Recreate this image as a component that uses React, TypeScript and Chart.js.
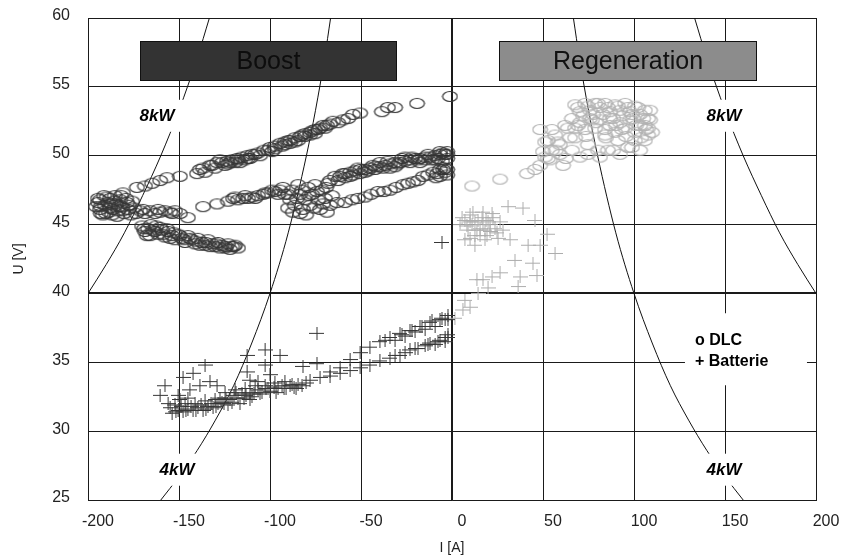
import React, { useEffect, useRef } from 'react';
import { Chart, registerables } from 'chart.js';

Chart.register(...registerables);

const FONT = '"Liberation Sans", Arial, Helvetica, sans-serif';

// Axis ticks
const xTicks = [-200, -150, -100, -50, 0, 50, 100, 150, 200];
const yTicks = [25, 30, 35, 40, 45, 50, 55, 60];

// DLC (circles), boost side: [I (A), U (V)]
const dlcBoost: [number, number][] = [
  // upper branch
  [-173.1, 47.7], [-168.7, 47.8], [-164.8, 48.0], [-160.4, 48.2], [-156.6, 48.4], [-180.8, 47.3],
  [-149.5, 48.5], [-140.1, 48.7], [-138.5, 49.0], [-136.8, 49.1], [-131.9, 49.3], [-130.2, 49.1],
  [-129.1, 49.5], [-126.4, 49.5], [-124.7, 49.3], [-123.6, 49.6], [-122.0, 49.5], [-120.9, 49.7],
  [-119.2, 49.5], [-118.1, 49.8], [-116.5, 49.5], [-115.4, 49.9], [-113.7, 49.7], [-112.6, 50.0],
  [-111.0, 49.8], [-109.9, 50.1], [-106.6, 50.2], [-103.3, 50.4], [-100.0, 50.6], [-97.3, 50.7],
  [-97.3, 50.5], [-94.5, 50.9], [-91.8, 51.0], [-91.8, 50.8], [-89.0, 51.1], [-89.0, 50.9],
  [-86.3, 51.3], [-86.3, 51.0], [-83.5, 51.4], [-80.8, 51.6], [-80.8, 51.4], [-78.0, 51.7],
  [-78.0, 51.5], [-75.3, 51.9], [-75.3, 51.6], [-72.5, 52.0], [-70.9, 52.2], [-69.8, 52.0],
  [-68.7, 52.2], [-65.4, 52.5], [-57.1, 52.7], [-54.4, 53.0], [-50.5, 53.1], [-38.5, 53.2],
  [-35.2, 53.5], [-31.3, 53.5], [-19.2, 53.8], [-1.1, 54.3],
  [-135.7, 48.8], [-133.0, 49.3], [-127.5, 49.7], [-123.1, 49.4], [-117.6, 49.7], [-112.1, 49.8],
  [-108.2, 50.1], [-105.5, 50.0], [-101.1, 50.4], [-98.9, 50.3], [-93.4, 50.7], [-90.1, 51.1],
  [-84.6, 51.1], [-82.4, 51.5], [-76.9, 51.8], [-73.6, 51.9], [-67.0, 52.3], [-62.6, 52.4],
  [-59.9, 52.6],
  // left cluster
  [-195.6, 46.3], [-194.5, 46.6], [-193.4, 46.8], [-193.4, 46.1], [-191.8, 45.7], [-191.2, 47.1],
  [-190.7, 46.4], [-190.1, 45.8], [-189.0, 46.6], [-187.9, 46.9], [-187.9, 46.2], [-186.8, 45.7],
  [-186.3, 46.1], [-185.2, 47.1], [-184.6, 46.5], [-183.5, 46.0], [-182.4, 46.8], [-181.3, 46.3],
  [-180.2, 45.8], [-178.6, 46.6], [-178.0, 46.1], [-176.4, 45.7], [-174.7, 46.2],
  [-194.5, 46.9], [-192.9, 46.3], [-189.6, 47.0], [-188.5, 45.9], [-185.7, 46.7], [-184.1, 45.6],
  [-181.9, 47.1], [-180.8, 46.0], [-179.1, 46.9], [-177.5, 46.4], [-175.8, 46.7], [-173.6, 45.8],
  [-192.9, 45.8], [-187.4, 46.5], [-183.0, 46.3],
  // middle branch
  [-171.4, 46.0], [-168.7, 45.8], [-165.9, 46.0], [-163.2, 45.8], [-160.4, 45.9], [-157.7, 46.0],
  [-154.9, 45.9], [-152.2, 46.0], [-149.5, 45.8], [-145.1, 45.5], [-136.8, 46.3], [-129.1, 46.5],
  [-123.1, 46.7], [-120.3, 46.9], [-117.6, 46.8], [-114.8, 46.9], [-112.1, 46.9], [-109.9, 47.0],
  [-106.6, 47.1], [-103.8, 47.2], [-101.1, 47.3], [-97.3, 47.4], [-94.5, 47.5],
  [-169.8, 46.1], [-161.5, 46.1], [-153.8, 45.8], [-119.2, 47.0], [-113.7, 47.1], [-108.2, 46.9],
  [-102.7, 47.3], [-98.9, 47.5], [-95.6, 47.2], [-92.9, 47.7],
  // dense cluster
  [-91.8, 47.2], [-90.1, 46.2], [-89.0, 46.8], [-87.9, 47.5], [-86.3, 46.4], [-84.6, 47.9],
  [-83.5, 47.2], [-83.5, 45.8], [-81.9, 46.1], [-80.8, 46.8], [-79.1, 47.7], [-78.0, 46.4],
  [-76.9, 47.2], [-75.3, 47.9], [-73.6, 46.8], [-72.5, 46.1], [-71.4, 47.5], [-69.8, 46.9],
  [-68.1, 48.0], [-67.0, 46.4], [-67.0, 48.2],
  [-90.1, 47.2], [-87.4, 45.9], [-85.2, 46.9], [-82.4, 47.5], [-80.2, 45.7], [-78.6, 47.1],
  [-75.8, 46.2], [-74.2, 47.4], [-70.9, 46.5], [-69.2, 47.7], [-65.9, 47.1], [-68.7, 45.9],
  // band A
  [-64.3, 48.5], [-61.5, 48.5], [-58.8, 48.7], [-58.8, 48.4], [-56.0, 48.8], [-56.0, 48.5],
  [-53.3, 48.9], [-50.5, 49.0], [-50.5, 48.7], [-47.8, 49.0], [-47.8, 48.8], [-45.1, 49.1],
  [-42.3, 49.2], [-42.3, 49.0], [-39.6, 49.2], [-39.6, 49.5], [-36.8, 49.3], [-34.1, 49.4],
  [-34.1, 49.1], [-31.3, 49.5], [-31.3, 49.2], [-28.6, 49.5], [-25.8, 49.6], [-25.8, 49.9],
  [-23.1, 49.7], [-23.1, 49.5], [-20.3, 49.8], [-17.6, 49.8], [-17.6, 49.5], [-14.8, 49.9],
  [-14.8, 49.7], [-12.1, 49.9], [-9.3, 50.0], [-9.3, 49.7], [-6.6, 50.1], [-6.6, 50.3],
  [-3.8, 50.1], [-2.7, 50.1], [-2.7, 49.8], [-2.7, 50.3],
  [-62.6, 48.2], [-59.9, 48.7], [-54.4, 48.6], [-51.7, 49.1], [-46.2, 48.9], [-43.4, 49.3],
  [-37.9, 49.1], [-35.2, 49.6], [-29.7, 49.4], [-27.5, 49.8], [-22.0, 49.9], [-18.7, 49.7],
  [-13.2, 50.1], [-11.0, 49.7], [-7.7, 49.8], [-4.9, 50.2], [-5.5, 49.6],
  // band B
  [-63.2, 46.6], [-54.9, 46.8], [-47.8, 47.0], [-40.7, 47.4], [-34.1, 47.5], [-26.9, 47.9],
  [-21.4, 48.1], [-15.9, 48.5], [-10.4, 48.8], [-8.2, 48.7], [-6.6, 49.0], [-6.6, 48.5],
  [-3.8, 48.8], [-3.8, 49.1], [-2.7, 49.0], [-2.7, 48.6],
  [-58.8, 46.6], [-51.7, 46.9], [-44.5, 47.2], [-37.4, 47.4], [-30.8, 47.7], [-24.2, 48.0],
  [-18.7, 48.2], [-13.2, 48.6], [-4.9, 49.0], [-8.8, 48.4],
  // lower branch
  [-170.3, 44.9], [-168.7, 44.5], [-167.0, 44.7], [-165.9, 44.2], [-164.3, 44.6], [-162.6, 44.9],
  [-161.5, 44.3], [-159.3, 44.6], [-157.7, 44.1], [-156.0, 44.5], [-153.8, 44.2], [-152.2, 43.9],
  [-150.5, 44.3], [-148.4, 44.0], [-146.7, 43.7], [-145.1, 44.2], [-142.9, 43.9], [-141.2, 43.6],
  [-139.6, 44.0], [-137.4, 43.7], [-135.7, 43.5], [-134.1, 43.9], [-131.9, 43.6], [-130.2, 43.4],
  [-128.6, 43.7], [-126.4, 43.5], [-124.7, 43.3], [-123.1, 43.6], [-120.9, 43.4], [-119.2, 43.5],
  [-117.6, 43.3],
  [-169.2, 44.7], [-167.6, 44.2], [-165.4, 45.0], [-163.2, 44.5], [-160.4, 44.8], [-158.8, 44.3],
  [-156.6, 44.7], [-154.9, 44.0], [-152.7, 44.4], [-149.5, 44.2], [-147.3, 43.9], [-144.0, 44.0],
  [-140.7, 43.8], [-138.5, 43.5], [-135.2, 43.7], [-133.0, 43.4], [-129.7, 43.6], [-127.5, 43.3],
  [-124.2, 43.4], [-122.0, 43.2], [-119.8, 43.4],
];

// DLC (circles), regeneration side
const dlcRegen: [number, number][] = [
  [11.0, 47.8], [26.4, 48.3], [41.2, 48.7], [48.4, 49.3], [51.1, 49.9], [54.9, 50.4],
  [45.6, 49.0], [48.4, 51.9], [50.0, 50.3], [52.7, 51.1], [53.8, 49.7], [56.6, 51.5],
  [59.3, 50.8], [59.3, 50.1], [61.0, 49.3], [63.7, 52.0], [65.9, 50.4], [67.6, 51.3],
  [70.3, 49.9], [73.1, 51.9], [74.7, 50.8], [76.9, 52.6], [80.2, 50.4], [81.3, 49.9],
  [84.1, 51.5], [86.8, 52.2], [88.5, 50.4], [91.2, 51.1], [93.4, 51.9], [96.7, 50.6],
  [98.9, 53.0], [100.5, 51.1], [103.3, 50.4], [106.0, 52.2], [106.0, 53.3], [107.7, 51.5],
  [67.6, 53.7], [70.3, 53.2], [73.1, 53.8], [75.8, 53.3], [78.6, 53.8], [81.3, 53.5],
  [84.1, 53.8], [86.8, 53.2], [89.6, 53.7], [92.3, 53.3], [95.1, 53.8], [97.8, 53.2],
  [100.5, 53.6], [103.3, 53.0], [107.7, 52.7], [65.9, 52.7], [70.3, 52.4], [75.8, 52.7],
  [81.3, 52.6], [86.8, 52.7], [92.3, 52.4], [97.8, 52.6], [103.3, 52.2], [107.7, 52.0],
  [67.6, 52.0], [78.6, 52.0], [84.1, 51.9], [89.6, 51.7], [95.1, 52.0], [100.5, 51.7],
  [106.0, 51.1], [108.8, 52.6],
  [69.2, 53.5], [72.0, 52.9], [74.7, 53.6], [77.5, 53.0], [80.2, 53.8], [83.0, 53.0],
  [85.7, 53.5], [88.5, 52.7], [91.2, 53.6], [94.0, 52.9], [96.7, 53.5], [99.5, 52.7],
  [102.2, 53.5], [105.0, 52.7], [106.6, 51.9], [103.9, 51.3], [101.1, 52.2], [95.6, 51.4],
  [90.1, 52.2], [84.6, 51.3], [79.1, 52.4], [73.6, 51.4], [69.2, 52.2], [64.8, 51.3],
  [62.1, 52.2], [58.2, 51.0], [54.9, 51.9], [51.1, 51.0], [52.7, 49.8], [57.1, 50.4],
  [62.6, 49.8], [74.7, 50.1], [85.7, 50.4], [92.3, 50.1], [98.9, 50.6], [108.8, 53.3],
  [109.9, 51.7],
];

// Batterie (crosses), boost side
const batBoost: [number, number][] = [
  [-153.8, 31.3], [-150.5, 31.5], [-147.8, 31.4], [-145.1, 31.6], [-142.3, 31.5], [-139.6, 31.7],
  [-136.8, 31.5], [-134.1, 31.8], [-131.3, 31.7], [-128.6, 32.0], [-152.2, 31.9], [-146.7, 32.0],
  [-141.2, 32.0], [-135.7, 32.2], [-130.2, 32.3], [-154.9, 31.7], [-149.5, 32.3],
  [-151.7, 31.4], [-148.9, 31.8], [-146.2, 31.5], [-143.4, 31.8], [-140.7, 31.5], [-137.9, 31.9],
  [-135.2, 31.6], [-132.4, 32.0], [-129.7, 31.8], [-127.5, 32.4], [-125.3, 32.0], [-120.9, 32.1],
  [-118.7, 32.8], [-114.3, 32.4], [-109.9, 32.5], [-105.5, 32.7], [-101.1, 33.1], [-96.7, 32.8],
  [-92.3, 33.1], [-87.9, 33.4], [-85.7, 33.1], [-80.2, 33.5], [-156.0, 32.0], [-150.5, 32.6],
  [-145.1, 32.4],
  [-126.4, 32.1], [-124.2, 32.4], [-122.0, 32.3], [-119.8, 32.6], [-117.6, 32.4], [-115.4, 32.7],
  [-113.2, 32.6], [-111.0, 32.8], [-108.8, 32.7], [-106.6, 33.0], [-104.4, 32.8], [-102.2, 33.1],
  [-100.0, 32.9], [-97.8, 33.2], [-95.6, 33.1], [-93.4, 33.3], [-91.2, 33.1], [-89.0, 33.3],
  [-86.8, 33.2], [-84.6, 33.4], [-82.4, 33.3], [-124.7, 32.8], [-119.2, 33.0], [-113.7, 33.1],
  [-108.2, 33.3], [-102.7, 33.3], [-97.3, 33.5], [-91.8, 33.6], [-123.1, 31.9], [-116.5, 32.0],
  [-111.0, 32.3],
  [-147.8, 33.9], [-142.3, 34.2], [-135.7, 34.8], [-138.5, 33.3], [-133.0, 33.6], [-144.0, 33.0],
  [-129.1, 33.3], [-112.6, 34.3], [-102.7, 34.8], [-102.7, 35.9], [-94.5, 35.5], [-112.6, 35.5],
  [-111.0, 33.7], [-106.6, 33.6], [-74.2, 37.1], [-81.9, 34.7], [-74.2, 34.9], [-100.0, 34.1],
  [-160.4, 32.6], [-157.7, 33.3], [-5.5, 43.7],
  [-78.0, 33.7], [-72.5, 33.9], [-67.0, 34.3], [-61.5, 34.6], [-56.0, 35.2], [-50.5, 35.7],
  [-45.1, 36.1], [-39.6, 36.5], [-34.1, 36.8], [-31.3, 36.6], [-28.6, 37.1], [-25.8, 36.9],
  [-23.1, 37.3], [-20.3, 37.2], [-17.6, 37.6], [-14.8, 37.4], [-12.1, 37.9], [-9.3, 37.6],
  [-6.6, 38.1], [-3.8, 38.1], [-2.2, 38.4], [-2.2, 38.1],
  [-36.8, 36.6], [-27.5, 37.0], [-22.0, 37.3], [-16.5, 37.6], [-11.0, 38.0], [-5.5, 38.2],
  [-67.0, 34.0], [-61.5, 34.2], [-56.0, 34.4], [-50.5, 34.6], [-45.1, 34.8], [-39.6, 35.1],
  [-34.1, 35.3], [-28.6, 35.5], [-23.1, 35.9], [-18.7, 36.0], [-14.8, 36.2], [-12.1, 36.4],
  [-9.3, 36.3], [-6.6, 36.6], [-3.8, 36.5], [-2.2, 36.8], [-2.2, 37.0],
  [-31.3, 35.5], [-25.8, 35.7], [-20.3, 36.0], [-13.2, 36.3], [-7.7, 36.5], [-3.8, 36.8],
];

// Batterie (crosses), regeneration side
const batRegen: [number, number][] = [
  [4.4, 45.0], [7.1, 45.3], [8.8, 44.6], [9.9, 45.7], [11.0, 45.0], [12.6, 44.2], [12.6, 45.2],
  [14.3, 45.3], [15.4, 44.7], [15.4, 44.2], [17.0, 45.9], [17.0, 45.0], [18.1, 43.9], [18.1, 44.6],
  [19.8, 45.2], [20.9, 44.5], [20.9, 45.0], [22.5, 45.5], [23.6, 44.7], [25.3, 44.0], [26.4, 45.2],
  [28.0, 44.6], [12.6, 43.5], [9.9, 44.0], [7.1, 43.9],
  [5.5, 45.5], [8.2, 44.9], [11.5, 45.9], [13.7, 44.6], [16.5, 45.5], [19.2, 44.2], [22.0, 45.8],
  [24.7, 44.4], [9.9, 45.2], [18.7, 45.3],
  [30.8, 46.3], [39.0, 46.2], [45.6, 45.3], [52.2, 44.3], [56.6, 42.9], [44.5, 42.2], [41.8, 43.5],
  [34.6, 42.4], [37.4, 41.2], [46.7, 41.3], [26.4, 41.5], [22.0, 41.2], [17.0, 41.0], [13.7, 41.0],
  [19.8, 40.4], [14.3, 40.0], [36.3, 40.5], [48.4, 43.5], [31.9, 43.9], [7.1, 39.5], [6.0, 38.8],
  [9.9, 39.0], [1.6, 38.2],
];

// Constant-power curves (U = P / |I|), tabulated
const power8kWLeft: [number, number][] = [
  [-200, 40.0], [-190, 42.1], [-180, 44.4], [-170, 47.1], [-160, 50.0], [-150, 53.3], [-140, 57.1], [-133.3, 60.0],
];
const power8kWRight: [number, number][] = [
  [133.3, 60.0], [140, 57.1], [150, 53.3], [160, 50.0], [170, 47.1], [180, 44.4], [190, 42.1], [200, 40.0],
];
const power4kWLeft: [number, number][] = [
  [-160, 25.0], [-150, 26.7], [-140, 28.6], [-130, 30.8], [-120, 33.3], [-110, 36.4], [-100, 40.0],
  [-90, 44.4], [-80, 50.0], [-75, 53.3], [-70, 57.1], [-66.7, 60.0],
];
const power4kWRight: [number, number][] = [
  [66.7, 60.0], [70, 57.1], [75, 53.3], [80, 50.0], [90, 44.4], [100, 40.0], [110, 36.4],
  [120, 33.3], [130, 30.8], [140, 28.6], [150, 26.7], [160, 25.0],
];

// Annotations (data coordinates)
const regionBoxes = [
  { text: 'Boost', i0: -171.4, i1: -30.2, u0: 55.4, u1: 58.3, fill: '#333333', color: '#0d0d0d' },
  { text: 'Regeneration', i0: 25.8, i1: 167.6, u0: 55.4, u1: 58.3, fill: '#8c8c8c', color: '#111111' },
];
const powerLabels = [
  { text: '8kW', i: -162.1, u: 52.9 },
  { text: '8kW', i: 149.5, u: 52.9 },
  { text: '4kW', i: -151.1, u: 27.2 },
  { text: '4kW', i: 149.5, u: 27.2 },
];
const legendLines = ['o DLC', '+ Batterie'];
const legendAnchor = { i: 133.5, u: 36.6 };

const toXY = (arr: [number, number][]) => arr.map(([x, y]) => ({ x, y }));

function makeEllipse(color: string): HTMLCanvasElement {
  const c = document.createElement('canvas');
  c.width = 17;
  c.height = 13;
  const g = c.getContext('2d')!;
  g.strokeStyle = color;
  g.lineWidth = 1.2;
  g.beginPath();
  g.ellipse(8.5, 6.5, 7.3, 5.0, 0, 0, Math.PI * 2);
  g.stroke();
  return c;
}

function makeCross(color: string): HTMLCanvasElement {
  const c = document.createElement('canvas');
  c.width = 15;
  c.height = 13;
  const g = c.getContext('2d')!;
  g.fillStyle = color;
  g.fillRect(0, 6, 15, 1);
  g.fillRect(7, 0, 1, 13);
  return c;
}

const annotationPlugin = {
  id: 'chartAnnotations',
  afterDatasetsDraw(chart: any) {
    const { ctx, scales } = chart;
    const x = scales.x;
    const y = scales.y;
    ctx.save();
    for (const b of regionBoxes) {
      const l = Math.round(x.getPixelForValue(b.i0));
      const r = Math.round(x.getPixelForValue(b.i1));
      const t = Math.round(y.getPixelForValue(b.u1));
      const bo = Math.round(y.getPixelForValue(b.u0));
      ctx.fillStyle = b.fill;
      ctx.fillRect(l, t, r - l, bo - t);
      ctx.strokeStyle = '#111';
      ctx.lineWidth = 1;
      ctx.strokeRect(l + 0.5, t + 0.5, r - l - 1, bo - t - 1);
      ctx.fillStyle = b.color;
      ctx.font = `25px ${FONT}`;
      ctx.textAlign = 'center';
      ctx.textBaseline = 'middle';
      ctx.fillText(b.text, (l + r) / 2, (t + bo) / 2 + 1);
    }
    for (const p of powerLabels) {
      const cx = x.getPixelForValue(p.i);
      const cy = y.getPixelForValue(p.u);
      ctx.fillStyle = '#ffffff';
      ctx.fillRect(cx - 28, cy - 16, 56, 32);
      ctx.fillStyle = '#000';
      ctx.font = `italic bold 17px ${FONT}`;
      ctx.textAlign = 'center';
      ctx.textBaseline = 'middle';
      ctx.fillText(p.text, cx, cy + 1);
    }
    const lx = x.getPixelForValue(legendAnchor.i);
    const ly = y.getPixelForValue(legendAnchor.u);
    ctx.fillStyle = '#ffffff';
    ctx.fillRect(lx - 10, ly - 27, 122, 72);
    ctx.fillStyle = '#000';
    ctx.font = `bold 16px ${FONT}`;
    ctx.textAlign = 'left';
    ctx.textBaseline = 'middle';
    legendLines.forEach((t, k) => ctx.fillText(t, lx, ly + k * 21));
    ctx.restore();
  },
};

export default function App() {
  const ref = useRef<HTMLCanvasElement>(null);

  useEffect(() => {
    const canvas = ref.current;
    if (!canvas) return;
    const darkCircle = makeEllipse('#363636');
    const lightCircle = makeEllipse('#b2b2b2');
    const darkCross = makeCross('#363636');
    const lightCross = makeCross('#adadad');

    const curve = (data: [number, number][]) => ({
      data: toXY(data),
      showLine: true,
      borderColor: '#111111',
      borderWidth: 1,
      pointRadius: 0,
      cubicInterpolationMode: 'monotone' as const,
      fill: false,
    });

    const chart = new Chart(canvas, {
      type: 'scatter',
      data: {
        datasets: [
          { label: 'DLC', data: toXY(dlcBoost), pointStyle: darkCircle as any, pointRadius: 6 },
          { label: 'Batterie', data: toXY(batBoost), pointStyle: darkCross as any, pointRadius: 6 },
          { label: 'DLC regen', data: toXY(dlcRegen), pointStyle: lightCircle as any, pointRadius: 6 },
          { label: 'Batterie regen', data: toXY(batRegen), pointStyle: lightCross as any, pointRadius: 6 },
          curve(power8kWLeft),
          curve(power8kWRight),
          curve(power4kWLeft),
          curve(power4kWRight),
        ] as any,
      },
      options: {
        responsive: false,
        animation: false,
        devicePixelRatio: 1,
        events: [],
        layout: { padding: { left: 0, right: 27, top: 18, bottom: 0 } },
        plugins: { legend: { display: false }, tooltip: { enabled: false } },
        scales: {
          x: {
            type: 'linear',
            min: -200,
            max: 200,
            afterBuildTicks: (s: any) => {
              s.ticks = xTicks.map((v) => ({ value: v }));
            },
            afterFit: (s: any) => {
              s.height = 60;
              s.paddingLeft = 0;
              s.paddingRight = 0;
            },
            grid: {
              color: '#1a1a1a',
              lineWidth: (c: any) => (c.tick && c.tick.value === 0 ? 2 : 1),
              drawTicks: false,
            },
            border: { display: true, color: '#1a1a1a', width: 1 },
            ticks: {
              color: '#222',
              font: { family: FONT, size: 16 },
              padding: 12,
              labelOffset: 10,
              maxRotation: 0,
              autoSkip: false,
            },
            title: {
              display: true,
              text: 'I [A]',
              color: '#222',
              font: { family: FONT, size: 14 },
              padding: { top: 0, bottom: 3 },
            },
          },
          y: {
            type: 'linear',
            min: 25,
            max: 60,
            afterBuildTicks: (s: any) => {
              s.ticks = yTicks.map((v) => ({ value: v }));
            },
            afterFit: (s: any) => {
              s.width = 88;
              s.paddingTop = 0;
              s.paddingBottom = 0;
            },
            grid: {
              color: '#1a1a1a',
              lineWidth: (c: any) => (c.tick && c.tick.value === 40 ? 2 : 1),
              drawTicks: false,
            },
            border: { display: true, color: '#1a1a1a', width: 1 },
            ticks: {
              color: '#222',
              font: { family: FONT, size: 16 },
              padding: 18,
              labelOffset: -2,
              autoSkip: false,
            },
            title: {
              display: true,
              text: 'U [V]',
              color: '#222',
              font: { family: FONT, size: 14 },
              padding: { top: 11, bottom: 0 },
            },
          },
        },
      } as any,
      plugins: [annotationPlugin],
    });
    return () => chart.destroy();
  }, []);

  return (
    <div style={{ position: 'fixed', left: 0, top: 0, width: 843, height: 560, background: '#fff' }}>
      <canvas ref={ref} width={843} height={560} style={{ display: 'block', width: 843, height: 560 }} />
    </div>
  );
}
